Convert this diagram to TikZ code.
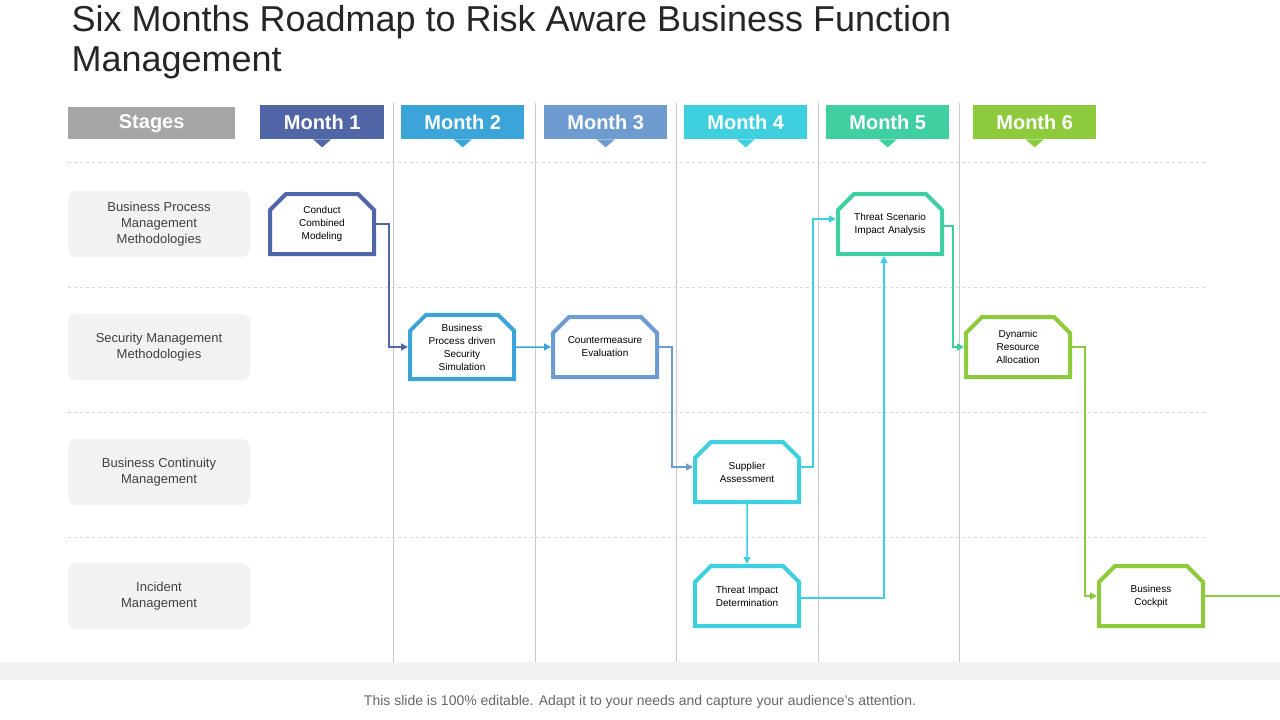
\documentclass[tikz,border=0pt]{standalone}
\usepackage{fontspec}
\setmainfont{Liberation Sans}
\usetikzlibrary{shapes.misc,arrows.meta}
\definecolor{monA}{HTML}{5166A7}
\definecolor{monB}{HTML}{3BA4D8}
\definecolor{monC}{HTML}{6E9BD0}
\definecolor{monD}{HTML}{3FD0E0}
\definecolor{monE}{HTML}{40CFA0}
\definecolor{monF}{HTML}{8DCB3C}
\definecolor{paleGray}{HTML}{F2F2F2}
\definecolor{gridGray}{HTML}{C8C8C8}
\tikzset{
	task/.style = {chamfered rectangle, chamfered rectangle corners = {north west, north east},
		chamfered rectangle xsep = 8pt, chamfered rectangle ysep = 8pt,
		draw = #1, line width = 4pt, fill = white, minimum width = 90pt, minimum height = 60pt,
		inner sep = 1pt, align = center, text width = 86pt, font = \fontsize{10}{13}\selectfont},
	stage/.style = {fill = paleGray, rounded corners = 8pt, minimum width = 182pt, minimum height = 66pt,
		align = center, font = \fontsize{13}{16}\selectfont, text = black!75},
	link/.style = {draw = #1, line width = 1.5pt, -{Triangle[length=7pt,width=7pt]}},
}
% month tab: name, x left, width, color, label
\newcommand{\monthTab}[5]{
	\node[fill = #4, minimum width = #3pt, minimum height = 34pt, anchor = north west, inner sep = 0pt,
		text = white, font = \fontsize{20}{24}\selectfont\bfseries] (#1) at (#2, 105) {#5};
	\fill[#4] ([xshift = -9pt]#1.south) -- ([xshift = 9pt]#1.south) -- ([yshift = -8pt]#1.south) -- cycle;
}

\begin{document}
\begin{tikzpicture}[x = 1pt, y = -1pt]
	\useasboundingbox (0, 0) rectangle (1280, 720);

	\node[anchor = north west, align = left, font = \fontsize{36}{40}\selectfont, text = black!85] (title) at (68, 2)
		{Six Months Roadmap to Risk Aware Business Function\\Management};

	% grid
	\foreach \gx in {393, 535, 676, 818, 959}
		\draw[gridGray, line width = 0.8pt] (\gx, 103) -- (\gx, 662);
	\foreach \gy in {162, 287, 412, 537}
		\draw[gridGray!70, dashed, line width = 0.8pt] (68, \gy) -- (1205, \gy);

	% headers
	\node[fill = black!35, minimum width = 167pt, minimum height = 32pt, anchor = north west, inner sep = 0pt,
		text = white, font = \fontsize{20}{24}\selectfont\bfseries] (stages) at (68, 107) {Stages};
	\monthTab{m1}{260}{124}{monA}{Month 1}
	\monthTab{m2}{401}{123}{monB}{Month 2}
	\monthTab{m3}{544}{123}{monC}{Month 3}
	\monthTab{m4}{684}{123}{monD}{Month 4}
	\monthTab{m5}{826}{123}{monE}{Month 5}
	\monthTab{m6}{973}{123}{monF}{Month 6}

	% stages
	\node[stage] (bpm) at (159, 224) {Business Process\\Management\\Methodologies};
	\node[stage] (smm) at (159, 347) {Security Management\\Methodologies};
	\node[stage] (bcm) at (159, 472) {Business Continuity\\Management};
	\node[stage] (inc) at (159, 596) {Incident\\Management};

	% tasks
	\node[task = monA] (conduct) at (322, 224) {Conduct\\Combined\\Modeling};
	\node[task = monB] (bpsim) at (462, 347) {Business\\Process driven\\Security\\Simulation};
	\node[task = monC] (counter) at (605, 347) {Countermeasure\\Evaluation\\[12pt]};
	\node[task = monD] (supplier) at (747, 472) {Supplier\\Assessment};
	\node[task = monD] (impact) at (747, 596) {Threat Impact\\Determination};
	\node[task = monE] (scenario) at (890, 224) {Threat Scenario\\Impact Analysis\\[12pt]};
	\node[task = monF] (dynamic) at (1018, 347) {Dynamic\\Resource\\Allocation};
	\node[task = monF] (cockpit) at (1151, 596) {Business\\Cockpit};
	\coordinate (exit) at (1280, 596);

	% connectors
	\draw[link = monA] (conduct.east) -| (389, 347) -- (bpsim.west);
	\draw[link = monB] (bpsim) -- (counter);
	\draw[link = monC] (counter.east) -| (672, 467) -- ([yshift = 5pt]supplier.west);
	\draw[link = monD] ([yshift = 5pt]supplier.east) -| (813, 219) -- ([yshift = 5pt]scenario.west);
	\draw[link = monD] (supplier) -- (impact);
	\draw[link = monD] ([yshift = -2pt]impact.east) -| ([xshift = -6pt]scenario.south);
	\draw[link = monE] ([yshift = -2pt]scenario.east) -| (953, 347) -- (dynamic.west);
	\draw[link = monF] (dynamic.east) -| (1085, 596) -- (cockpit.west);
	\draw[monF, line width = 1.5pt] (cockpit.east) -- (exit);

	% footer
	\fill[paleGray] (0, 662) rectangle (1280, 680);
	\node[font = \fontsize{14}{16}\selectfont, text = black!60] (footer) at (640, 702)
		{This slide is 100\% editable. Adapt it to your needs and capture your audience's attention.};
\end{tikzpicture}
\end{document}
